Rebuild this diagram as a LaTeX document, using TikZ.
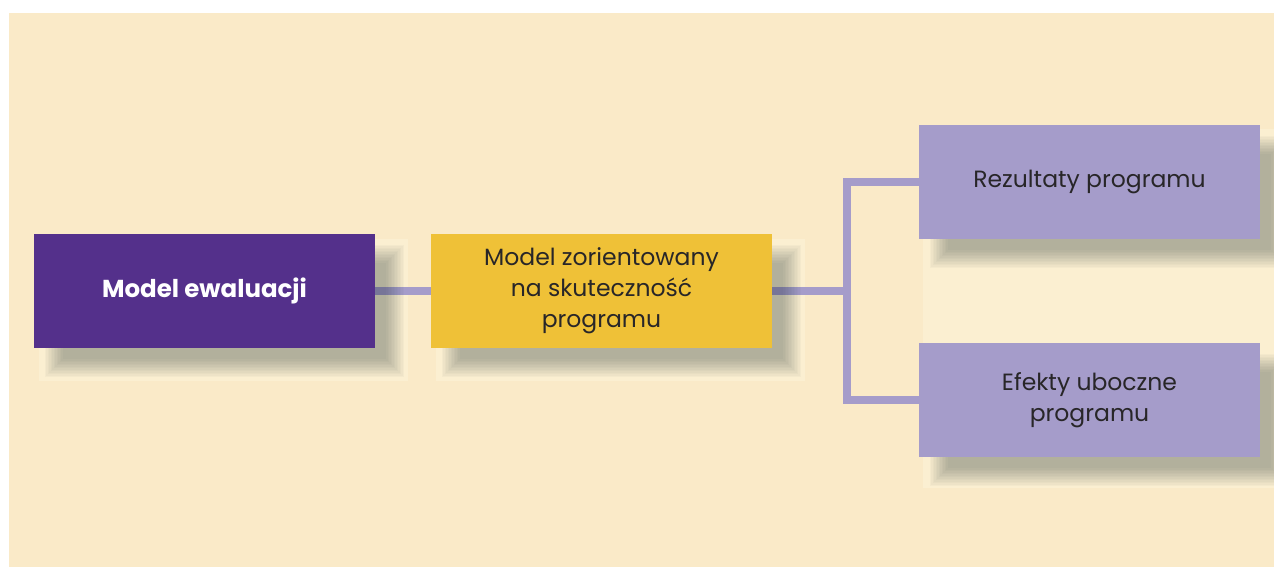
\documentclass[tikz,border=0pt]{standalone}
\usepackage{fontspec}
\setmainfont{Poppins}
\usetikzlibrary{calc}

\definecolor{panel}{RGB}{250,234,200}
\definecolor{halo}{RGB}{251,239,209}
\definecolor{plum}{RGB}{84,48,139}
\definecolor{mustard}{RGB}{239,193,55}
\definecolor{lavender}{RGB}{165,156,202}
\definecolor{shade}{RGB}{30,47,53}
\definecolor{ink}{RGB}{40,38,40}

\pgfdeclarelayer{haloes}
\pgfdeclarelayer{links}
\pgfdeclarelayer{shadows}
\pgfsetlayers{haloes,links,shadows,main}

\tikzset{
  card/.style={minimum width=341pt, minimum height=114pt, inner sep=0pt,
    align=center, text=ink, font=\fontsize{23.5}{31}\selectfont},
  headcard/.style={card, fill=plum, text=white,
    font=\fontsize{24.5}{31}\selectfont\bfseries},
  conn/.style={draw=lavender, line width=8pt},
  haze/.style={fill=shade, fill opacity=0.027},
}

% soft drop shadow below and to the right of a node
\newcommand\softshadow[1]{%
  \begin{pgfonlayer}{shadows}
    \foreach \e in {-9,-7.5,...,9}
      \fill[haze] ($(#1.north west)+(20-\e,20-\e)$)
        rectangle ($(#1.south east)+(20+\e,20+\e)$);
  \end{pgfonlayer}}

\begin{document}
\begin{tikzpicture}[x=1pt,y=-1pt]
\useasboundingbox (0,0) rectangle (1274,567);

\begin{pgfonlayer}{haloes}
  \fill[panel] (9,13) rectangle (1274,567);
  \fill[halo] (39,239) rectangle (408,381);
  \fill[halo] (436,239) rectangle (805,381);
  \fill[halo] (923,129) rectangle (1274,488);
\end{pgfonlayer}

\node[headcard] (eval) at (204.5,291) {Model ewaluacji};
\node[card, fill=mustard] (eff) at (601.5,291)
  {Model zorientowany\\na skuteczność\\programu};
\node[card, fill=lavender] (res) at (1089.5,182) {Rezultaty programu};
\node[card, fill=lavender] (side) at (1089.5,400) {Efekty uboczne\\programu};
\coordinate (fork) at (847,291);

\begin{pgfonlayer}{links}
  \draw[conn] (eval.east) -- (eff.west);
  \draw[conn] (eff.east) -- (fork);
  \draw[conn] (res.west) -| (fork) |- (side.west);
\end{pgfonlayer}

\softshadow{eval}
\softshadow{eff}
\softshadow{res}
\softshadow{side}
\end{tikzpicture}
\end{document}
